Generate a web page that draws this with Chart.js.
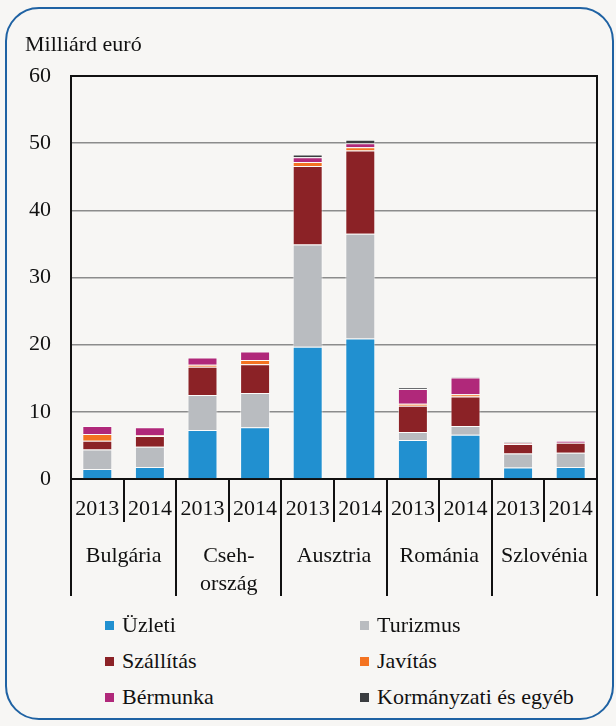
<!DOCTYPE html>
<html>
<head>
<meta charset="utf-8">
<script src="https://cdn.jsdelivr.net/npm/chart.js@4/dist/chart.umd.min.js"></script>
<style>
  body { margin: 0; background: #f7f6f4; font-family: "Liberation Serif", "Times New Roman", serif; }
  #frame {
    position: absolute; left: 5px; top: 7px; width: 609px; height: 713px;
    border: 2px solid #1f62a3; border-radius: 34px; box-sizing: border-box;
  }
  #unit { position: absolute; left: 25px; top: 31px; font-size: 22px; color: #111; }
  #wrap { position: absolute; left: 0; top: 0; width: 616px; height: 620px; }
  #legend { position: absolute; left: 105px; top: 612px; width: 500px; }
  .item { position: absolute; font-size: 22px; color: #111; white-space: nowrap; }
  .item span { display: inline-block; width: 9px; height: 9px; margin-right: 8px; vertical-align: 2px; }
</style>
</head>
<body>
<div id="frame"></div>
<div id="wrap"><canvas id="chart"></canvas></div>
<div id="unit">Milliárd euró</div>
<div id="legend"></div>
<script>
// Data (billion euro)
const years = ['2013', '2014', '2013', '2014', '2013', '2014', '2013', '2014', '2013', '2014'];
const countries = ['Bulgária', ['Cseh-', 'ország'], 'Ausztria', 'Románia', 'Szlovénia'];
const yTicks = [0, 10, 20, 30, 40, 50, 60];

const uzleti = [1.5, 1.8, 7.3, 7.7, 19.7, 20.9, 5.8, 6.6, 1.7, 1.8];
const turizmus = [2.9, 3.0, 5.2, 5.1, 15.2, 15.6, 1.2, 1.3, 2.1, 2.1];
const szallitas = [1.3, 1.6, 4.2, 4.3, 11.7, 12.4, 3.9, 4.4, 1.4, 1.5];
const javitas = [1.0, 0.1, 0.3, 0.6, 0.6, 0.5, 0.3, 0.3, 0.1, 0.0];
const bermunka = [1.2, 1.2, 1.1, 1.3, 0.7, 0.6, 2.2, 2.5, 0.1, 0.3];
const kormanyzati = [0.0, 0.0, 0.0, 0.0, 0.4, 0.5, 0.2, 0.1, 0.1, 0.0];

const series = [
  { label: 'Üzleti', data: uzleti, color: '#2190d0' },
  { label: 'Turizmus', data: turizmus, color: '#b9bcc0' },
  { label: 'Szállítás', data: szallitas, color: '#8b2226' },
  { label: 'Javítás', data: javitas, color: '#f47321' },
  { label: 'Bérmunka', data: bermunka, color: '#b0287a' },
  { label: 'Kormányzati és egyéb', data: kormanyzati, color: '#3b3d40' }
];

const serif = '"Liberation Serif", "Times New Roman", serif';

// Separators under the x axis: short ones between years, long ones between countries
const separators = {
  id: 'separators',
  afterDraw(chart) {
    const ctx = chart.ctx;
    const x = chart.scales.x;
    const bottom = chart.chartArea.bottom;
    const step = x.getPixelForValue(1) - x.getPixelForValue(0);
    ctx.save();
    ctx.strokeStyle = '#111';
    ctx.lineWidth = 2;
    for (let i = 0; i <= years.length; i++) {
      const px = x.getPixelForValue(0) - step / 2 + i * step;
      const len = i % 2 === 0 ? 117 : 43;
      ctx.beginPath();
      ctx.moveTo(Math.round(px), bottom);
      ctx.lineTo(Math.round(px), bottom + len);
      ctx.stroke();
    }
    // frame round the plot area
    const a = chart.chartArea;
    ctx.beginPath();
    ctx.moveTo(a.left, a.top);
    ctx.lineTo(a.right, a.top);
    ctx.lineTo(a.right, a.bottom);
    ctx.stroke();
    ctx.restore();
  }
};

const ctx = document.getElementById('chart').getContext('2d');
new Chart(ctx, {
  type: 'bar',
  data: {
    labels: years,
    datasets: series.map(s => ({
      label: s.label,
      data: s.data,
      backgroundColor: s.color,
      borderColor: 'rgba(255,255,255,0.55)',
      borderWidth: 1,
      barPercentage: 0.57,
      categoryPercentage: 1,
      xAxisID: 'x'
    }))
  },
  options: {
    responsive: true,
    maintainAspectRatio: false,
    animation: false,
    layout: { padding: { left: 0, top: 76, right: 19, bottom: 20 } },
    plugins: { legend: { display: false }, tooltip: { enabled: false } },
    scales: {
      x: {
        stacked: true,
        position: 'bottom',
        grid: { display: false },
        border: { color: '#111', width: 2 },
        ticks: { color: '#111', font: { family: serif, size: 22 }, padding: 9, maxRotation: 0, autoSkip: false },
        afterFit(scale) { scale.height = 45; }
      },
      x2: {
        type: 'category',
        labels: countries,
        position: 'bottom',
        grid: { display: false },
        border: { display: false },
        ticks: { color: '#111', font: { family: serif, size: 22, lineHeight: 1.27 }, padding: 10, maxRotation: 0, autoSkip: false },
        afterFit(scale) { scale.height = 76; }
      },
      y: {
        stacked: true,
        min: 0,
        max: 60,
        afterBuildTicks(scale) { scale.ticks = yTicks.map(v => ({ value: v })); },
        grid: { color: '#8c8c8c', lineWidth: 1.5, drawTicks: false },
        border: { color: '#111', width: 2 },
        ticks: { color: '#111', font: { family: serif, size: 22 }, padding: 20 },
        afterFit(scale) { scale.width = 71; }
      }
    }
  },
  plugins: [separators]
});

// Legend in two columns
const legend = document.getElementById('legend');
series.forEach((s, i) => {
  const d = document.createElement('div');
  d.className = 'item';
  d.style.left = (i % 2 === 0 ? 0 : 255) + 'px';
  d.style.top = (Math.floor(i / 2) * 36) + 'px';
  d.innerHTML = '<span style="background:' + s.color + '"></span>' + s.label;
  legend.appendChild(d);
});
</script>
</body>
</html>
